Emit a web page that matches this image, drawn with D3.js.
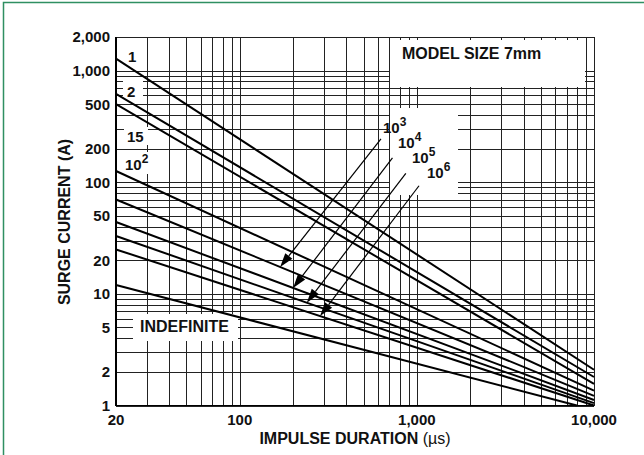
<!DOCTYPE html>
<html><head><meta charset="utf-8">
<script src="https://cdn.jsdelivr.net/npm/d3@7"></script>
<style>
html,body{margin:0;padding:0;background:#fff;}
svg{display:block;}
text{font-family:"Liberation Sans",Arial,Helvetica,sans-serif;font-weight:bold;fill:#111;}
</style></head>
<body>
<svg id="chart" width="644" height="455"></svg>
<script>
// ---- data ----
const seriesNames = ["1", "2", "15", "10^2", "10^3", "10^4", "10^5", "10^6", "INDEFINITE"];
const startDuration = [20, 20, 20, 20, 20, 20, 20, 20, 20];
const startCurrent = [1280, 620, 500, 126, 70, 44, 33, 25, 12];
const endDuration = [10000, 10000, 10000, 10000, 10000, 10000, 10000, 10000, 8000];
const endCurrent = [2.09, 1.8, 1.56, 1.36, 1.22, 1.12, 1.05, 1.0, 1.0];

const xTickValues = [20, 100, 1000, 10000];
const xTickLabels = ["20", "100", "1,000", "10,000"];
const yTickValues = [1, 2, 5, 10, 20, 50, 100, 200, 500, 1000, 2000];
const yTickLabels = ["1", "2", "5", "10", "20", "50", "100", "200", "500", "1,000", "2,000"];
const xGridValues = [20,30,40,50,60,70,80,90,100,200,300,400,500,600,700,800,900,1000,2000,3000,4000,5000,6000,7000,8000,9000,10000];
const yGridValues = [1,2,3,4,5,6,7,8,9,10,20,30,40,50,60,70,80,90,100,200,300,400,500,600,700,800,900,1000,2000];

// arrows (pulse-count callouts): tail point and tip duration on the matching series
const arrowSeries = [4, 5, 6, 7];
const arrowTailDuration = [627, 728, 866, 1028];
const arrowTailCurrent = [244, 165, 120, 93];
const arrowTipDuration = [169, 200, 239, 284];

const title = "MODEL SIZE 7mm";
const xTitle = "IMPULSE DURATION ";
const xTitleUnit = "(\u00b5s)";
const yTitle = "SURGE CURRENT (A)";

// ---- drawing ----
const svg = d3.select("#chart");
const x = d3.scaleLog().domain([20, 10000]).range([116, 594]);
const y = d3.scaleLog().domain([1, 2000]).range([405.5, 37]);

// green frame
svg.append("rect").attr("x", 3.5).attr("y", 2.5).attr("width", 700).attr("height", 500)
  .attr("fill", "none").attr("stroke", "#2f8f62").attr("stroke-width", 1.5);

const grid = svg.append("g").attr("shape-rendering", "crispEdges");
grid.selectAll("line.v").data(xGridValues).join("line")
  .attr("x1", d => Math.round(x(d)) + 0.5).attr("x2", d => Math.round(x(d)) + 0.5)
  .attr("y1", y(2000)).attr("y2", y(1))
  .attr("stroke", "#222").attr("stroke-width", 1);
grid.selectAll("line.h").data(yGridValues).join("line")
  .attr("y1", d => Math.round(y(d)) + 0.5).attr("y2", d => Math.round(y(d)) + 0.5)
  .attr("x1", x(20)).attr("x2", x(10000))
  .attr("stroke", "#222").attr("stroke-width", 1);
// axis lines a bit heavier
grid.append("line").attr("x1", x(20)).attr("x2", x(20)).attr("y1", y(2000)).attr("y2", y(1)).attr("stroke", "#000").attr("stroke-width", 1.6);
grid.append("line").attr("x1", x(20)).attr("x2", x(10000)).attr("y1", y(1)).attr("y2", y(1)).attr("stroke", "#000").attr("stroke-width", 1.6);

// white label boxes cutting the grid
const boxes = svg.append("g").attr("fill", "#fff");
boxes.append("rect").attr("x", 390).attr("y", 40).attr("width", 195).attr("height", 47);   // model size
boxes.append("rect").attr("x", 390).attr("y", 108).attr("width", 68).attr("height", 87);   // 10^n labels
boxes.append("rect").attr("x", 133).attr("y", 314).attr("width", 105).attr("height", 27);  // indefinite
boxes.append("rect").attr("x", 123).attr("y", 81).attr("width", 20).attr("height", 19);    // "2"
boxes.append("rect").attr("x", 124).attr("y", 127).attr("width", 24).attr("height", 18);   // "15"
boxes.append("rect").attr("x", 122).attr("y", 152).attr("width", 30).attr("height", 22);   // "10^2"

// series lines
const lineGen = d3.line().x(d => x(d[0])).y(d => y(d[1]));
const seriesData = seriesNames.map((n, i) => [[startDuration[i], startCurrent[i]], [endDuration[i], endCurrent[i]]]);
svg.append("g").selectAll("path").data(seriesData).join("path")
  .attr("d", lineGen).attr("fill", "none").attr("stroke", "#000").attr("stroke-width", 2);

// arrows
function valueAt(i, t) {
  const lt0 = Math.log10(startDuration[i]), lt1 = Math.log10(endDuration[i]);
  const li0 = Math.log10(startCurrent[i]), li1 = Math.log10(endCurrent[i]);
  const f = (Math.log10(t) - lt0) / (lt1 - lt0);
  return Math.pow(10, li0 + f * (li1 - li0));
}
const ag = svg.append("g");
arrowSeries.forEach((s, k) => {
  const x0 = x(arrowTailDuration[k]), y0 = y(arrowTailCurrent[k]);
  const x1 = x(arrowTipDuration[k]), y1 = y(valueAt(s, arrowTipDuration[k]));
  const ang = Math.atan2(y1 - y0, x1 - x0);
  const L = 14, W = 4.5;
  const bx = x1 - L * Math.cos(ang), by = y1 - L * Math.sin(ang);
  ag.append("line").attr("x1", x0).attr("y1", y0).attr("x2", bx).attr("y2", by)
    .attr("stroke", "#000").attr("stroke-width", 1.2);
  const px = -Math.sin(ang), py = Math.cos(ang);
  ag.append("path").attr("d", `M${x1},${y1}L${bx + W * px},${by + W * py}L${bx - W * px},${by - W * py}Z`)
    .attr("fill", "#000");
});

// tick labels
svg.append("g").selectAll("text").data(yTickValues).join("text")
  .attr("x", 110).attr("y", d => y(d)).attr("dy", "0.36em").attr("text-anchor", "end")
  .attr("font-size", 15).text((d, i) => yTickLabels[i]);
svg.append("g").selectAll("text").data(xTickValues).join("text")
  .attr("x", d => x(d)).attr("y", 425).attr("text-anchor", "middle")
  .attr("font-size", 15).text((d, i) => xTickLabels[i]);

// axis titles
const xt = svg.append("text").attr("x", 355).attr("y", 444).attr("text-anchor", "middle").attr("font-size", 16);
xt.append("tspan").text(xTitle);
xt.append("tspan").attr("font-weight", "normal").text(xTitleUnit);
svg.append("text").attr("transform", "translate(70,222) rotate(-90)").attr("text-anchor", "middle")
  .attr("font-size", 16).text(yTitle);

// in-plot texts
svg.append("text").attr("x", 402).attr("y", 59).attr("font-size", 16).text(title);
svg.append("text").attr("x", 140).attr("y", 332).attr("font-size", 16).text(seriesNames[8]);

function labelPow(xp, yp, base, exp) {
  const t = svg.append("text").attr("x", xp).attr("y", yp).attr("font-size", 15);
  t.append("tspan").text(base);
  if (exp) t.append("tspan").attr("font-size", 12).attr("dy", -7).text(exp);
}
labelPow(128, 62, "1", null);
labelPow(127, 97, "2", null);
labelPow(127, 142, "15", null);
labelPow(125, 170, "10", "2");
labelPow(383, 133, "10", "3");
labelPow(398, 148, "10", "4");
labelPow(412, 163, "10", "5");
labelPow(427, 178, "10", "6");
</script>
</body></html>
